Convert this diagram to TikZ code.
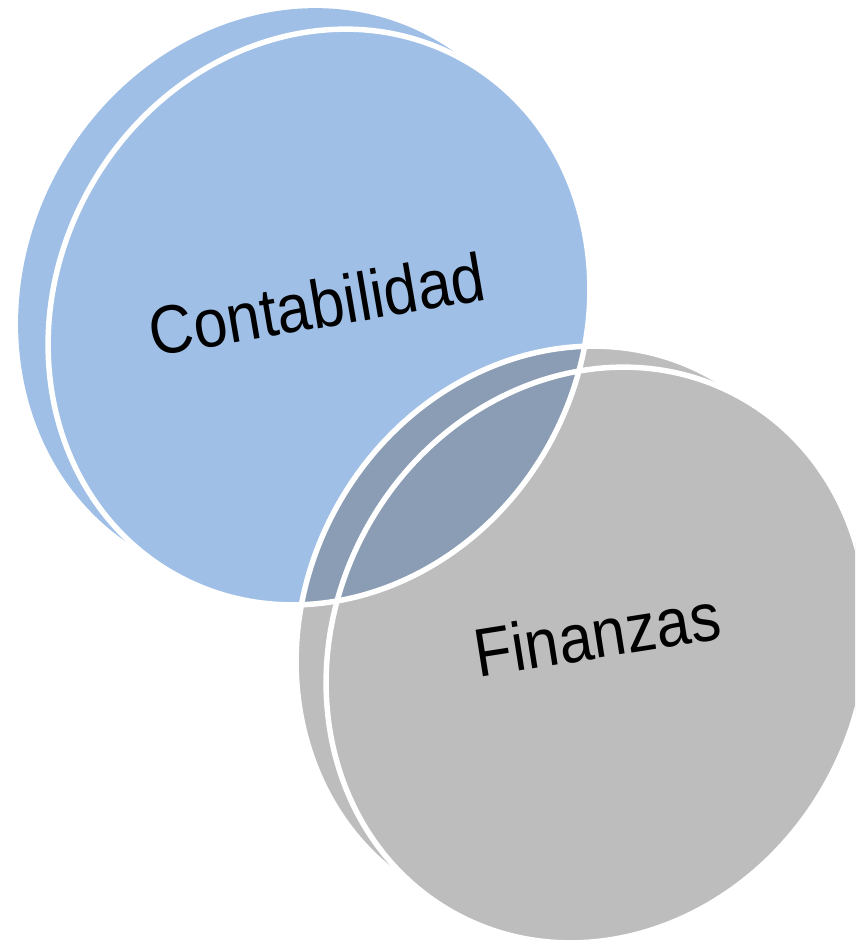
\documentclass[tikz,border=0pt]{standalone}
\usepackage{fontspec}
\setmainfont{Liberation Sans}
\definecolor{cblue}{HTML}{9FBFE6}
\definecolor{cgray}{HTML}{BDBDBD}
\definecolor{cdark}{HTML}{8A9DB4}
\begin{document}
\begin{tikzpicture}[x=1pt,y=-1pt]
\tikzset{
  coin/.style={shift={#1},rotate=-29},
  disk/.style={x radius=263, y radius=295},
  rim/.style={draw=white,line width=5.5pt},
  lbl/.style={font=\fontsize{61}{72}\selectfont, text=black, anchor=base, inner sep=0pt}
}
\useasboundingbox (0,0) rectangle (855,943);
\clip (0,0) rectangle (855,943);
% blue coin
\fill[cblue,coin={(289,296)}] (0,0) ellipse [disk];
\fill[cblue,coin={(319,317)}] (0,0) ellipse [disk];
% gray coin, back disk
\fill[cgray,coin={(567,634)}] (0,0) ellipse [disk];
\begin{scope}
  \clip[coin={(319,317)}] (0,0) ellipse [disk];
  \fill[cdark,coin={(567,634)}] (0,0) ellipse [disk];
\end{scope}
\draw[rim,coin={(567,634)}] (0,0) ellipse [disk];
% gray coin, front disk
\fill[cgray,coin={(597,655)}] (0,0) ellipse [disk];
\begin{scope}
  \clip[coin={(319,317)}] (0,0) ellipse [disk];
  \fill[cdark,coin={(597,655)}] (0,0) ellipse [disk];
\end{scope}
% white rims of front disks
\draw[rim,coin={(319,317)}] (0,0) ellipse [disk];
\draw[rim,coin={(597,655)}] (0,0) ellipse [disk];
% labels
\node[lbl,rotate=9.7,yscale=1.12] (contab) at (321,328) {Contabilidad};
\node[lbl,rotate=9,yscale=1.12] (finan) at (601,658) {Finanzas};
\end{tikzpicture}
\end{document}
